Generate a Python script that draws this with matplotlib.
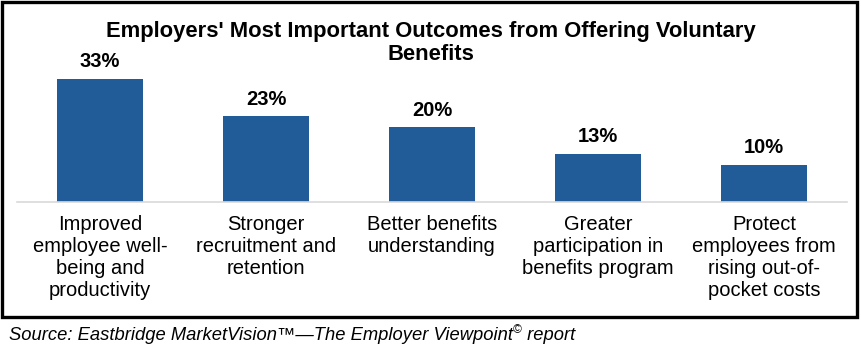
import matplotlib
matplotlib.use("Agg")
import matplotlib.pyplot as plt
from matplotlib.patches import Rectangle

plt.rcParams['font.family'] = ['Liberation Sans', 'DejaVu Sans']

categories = ["Improved\nemployee well-\nbeing and\nproductivity",
              "Stronger\nrecruitment and\nretention",
              "Better benefits\nunderstanding",
              "Greater\nparticipation in\nbenefits program",
              "Protect\nemployees from\nrising out-of-\npocket costs"]
values = [33, 23, 20, 13, 10]
value_labels = ["33%", "23%", "20%", "13%", "10%"]
title_lines = ["Employers' Most Important Outcomes from Offering Voluntary",
               "Benefits"]

W, H = 862, 354
fig = plt.figure(figsize=(W / 100, H / 100), dpi=100)

# outer frame
fig.patches.append(Rectangle((2 / W, 1 - 317 / H), 855 / W, 315 / H,
                             transform=fig.transFigure, fill=False,
                             edgecolor='black', linewidth=2.4))

ax = fig.add_axes([17 / W, 1 - 202 / H, 830 / W, (202 - 52.8) / H])
x = list(range(len(values)))
ax.bar(x, values, width=0.515, color='#215C98')
ax.set_xlim(-0.5, len(values) - 0.5)
ax.set_ylim(0, 40)
for s in ['top', 'right', 'left']:
    ax.spines[s].set_visible(False)
ax.spines['bottom'].set_color('#D9D9D9')
ax.spines['bottom'].set_linewidth(1.2)
ax.set_yticks([])
ax.set_xticks(x)
ax.set_xticklabels(categories, fontsize=14.5, linespacing=1.21, color='black')
ax.tick_params(axis='x', length=0, pad=9)

for xi, v, lab in zip(x, values, value_labels):
    ax.annotate(lab, (xi, v), xytext=(0, 5.5), textcoords='offset points',
                ha='center', va='bottom', fontsize=14.5, fontweight='bold')

fig.text(0.5, 1 - 32 / H, title_lines[0], ha='center', va='center',
         fontsize=15.8, fontweight='bold')
fig.text(0.5, 1 - 55 / H, title_lines[1], ha='center', va='center',
         fontsize=15.8, fontweight='bold')

# source line
t1 = fig.text(9 / W, 1 - 336 / H,
              "Source: Eastbridge MarketVision\u2122\u2014The Employer Viewpoint",
              ha='left', va='center', fontsize=13.2, style='italic')
fig.canvas.draw()
r = fig.canvas.get_renderer()
bb = t1.get_window_extent(r)
x1 = bb.x1 / W
t2 = fig.text(x1, 1 - 330 / H, "\u00a9", ha='left', va='center', fontsize=8.5,
              style='italic')
fig.canvas.draw()
bb2 = t2.get_window_extent(r)
fig.text(bb2.x1 / W, 1 - 336 / H, " report", ha='left', va='center',
         fontsize=13.2, style='italic')

fig.savefig("out.png", dpi=100)
